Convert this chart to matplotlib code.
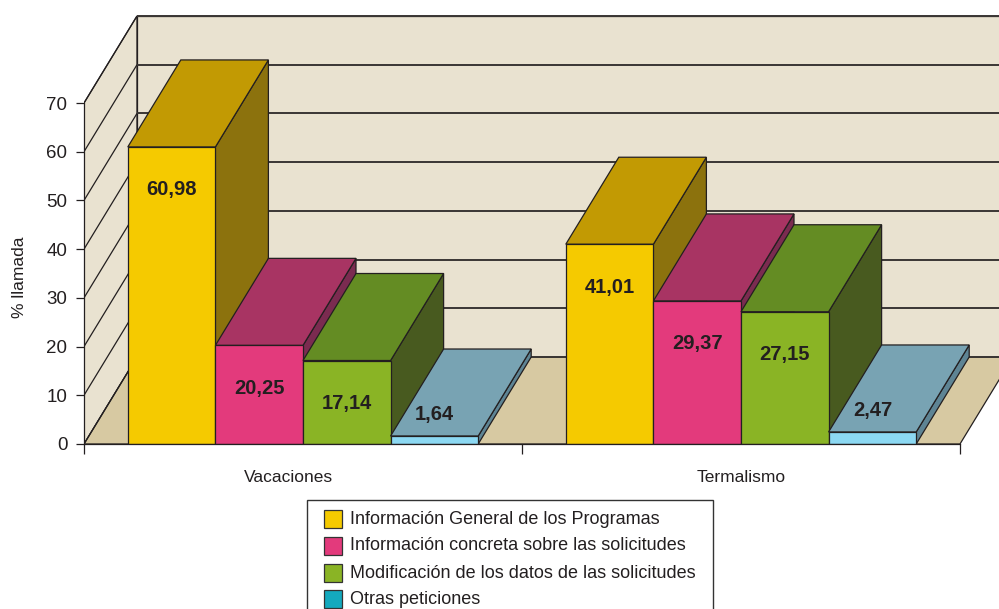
import matplotlib
matplotlib.use("Agg")
import matplotlib.pyplot as plt
from matplotlib.patches import Polygon, Rectangle

plt.rcParams['font.family'] = ['Liberation Sans', 'DejaVu Sans']

# ---- data ----
categories = ["Vacaciones", "Termalismo"]
series = [
    "Información General de los Programas",
    "Información concreta sobre las solicitudes",
    "Modificación de los datos de las solicitudes",
    "Otras peticiones",
]
values = [
    [60.98, 20.25, 17.14, 1.64],   # Vacaciones
    [41.01, 29.37, 27.15, 2.47],   # Termalismo
]
value_labels = [
    ["60,98", "20,25", "17,14", "1,64"],
    ["41,01", "29,37", "27,15", "2,47"],
]
y_ticks = [0, 10, 20, 30, 40, 50, 60, 70]
y_label = "% llamada"

# ---- styling ----
front_colors = ["#F5CA00", "#E33A7C", "#8AB425", "#8CD8F2"]
top_colors = ["#C29A03", "#A83463", "#648C23", "#78A3B3"]
side_colors = ["#8C720D", "#7B2B50", "#485A1F", "#5E8494"]
legend_colors = ["#F5CA00", "#E33A7C", "#8AB425", "#14A9BE"]
wall_color = "#E9E2D0"
floor_color = "#D7C9A2"
edge = "#231F20"
text_color = "#231F20"
cat_label_nudge = [-0.034, 0.0]   # horizontal shift of category names (category units)

W, H = 999, 609
fig = plt.figure(figsize=(W / 100, H / 100), dpi=100)

# plot area: x in category units, y in percent
px_per_cat = 438.0
px_per_val = (444 - 103) / 70.0
left_px, base_px = 84, 444
x_max = (W - left_px) / px_per_cat
y_max = base_px / px_per_val
ax = fig.add_axes([left_px / W, (H - base_px) / H, (W - left_px) / W, base_px / H])
ax.set_xlim(0, x_max)
ax.set_ylim(0, y_max)
ax.patch.set_visible(False)

# oblique depth offset of the 3D box
DX = 53 / px_per_cat
DY = 87 / px_per_val
ymax_axis = y_ticks[-1]
ncat = len(categories)

lw = 0.9
# side wall
ax.add_patch(Polygon([(0, 0), (0, ymax_axis), (DX, ymax_axis + DY), (DX, DY)],
                     closed=True, facecolor=wall_color, edgecolor=edge, lw=lw, zorder=1))
# back wall
ax.add_patch(Polygon([(DX, DY), (DX, ymax_axis + DY), (ncat + DX, ymax_axis + DY), (ncat + DX, DY)],
                     closed=True, facecolor=wall_color, edgecolor=edge, lw=lw, zorder=1))
# floor
ax.add_patch(Polygon([(0, 0), (ncat, 0), (ncat + DX, DY), (DX, DY)],
                     closed=True, facecolor=floor_color, edgecolor=edge, lw=lw, zorder=1))
# gridlines on walls
for t in y_ticks:
    ax.plot([0, DX], [t, t + DY], color=edge, lw=lw, zorder=2, solid_capstyle='butt')
    ax.plot([DX, ncat + DX], [t + DY, t + DY], color="#3A3634", lw=1.4, zorder=2,
            solid_capstyle='butt')

# bars
group_pad = 0.1
bw = (1 - 2 * group_pad) / len(series)
z = 3
for i, cat_vals in enumerate(values):
    for j, v in enumerate(cat_vals):
        x0 = i + group_pad + j * bw
        x1 = x0 + bw
        front = Polygon([(x0, 0), (x1, 0), (x1, v), (x0, v)], closed=True,
                        facecolor=front_colors[j], edgecolor=edge, lw=lw, zorder=z)
        top = Polygon([(x0, v), (x1, v), (x1 + DX, v + DY), (x0 + DX, v + DY)], closed=True,
                      facecolor=top_colors[j], edgecolor=edge, lw=lw, zorder=z)
        side = Polygon([(x1, 0), (x1, v), (x1 + DX, v + DY), (x1 + DX, DY)], closed=True,
                       facecolor=side_colors[j], edgecolor=edge, lw=lw, zorder=z)
        for p in (side, top, front):
            ax.add_patch(p)
        z += 1
        ly = v - 8.8 if v > 12 else v + 4.4
        ax.text((x0 + x1) / 2, ly, value_labels[i][j], ha='center', va='center',
                fontsize=14.5, fontweight='bold', color=text_color, zorder=100)

# axes
for s in ("top", "right"):
    ax.spines[s].set_visible(False)
ax.spines["left"].set_bounds(0, ymax_axis)
ax.spines["bottom"].set_bounds(0, ncat)
for s in ("left", "bottom"):
    ax.spines[s].set_color(edge)
    ax.spines[s].set_linewidth(lw)
    ax.spines[s].set_zorder(50)
ax.set_yticks(y_ticks)
ax.set_yticklabels([str(t) for t in y_ticks])
ax.tick_params(axis='y', length=6, width=lw, color=edge, pad=6, labelsize=13.5,
               labelcolor=text_color)
ax.set_xticks(range(ncat + 1))
ax.set_xticklabels([""] * (ncat + 1))
ax.tick_params(axis='x', which='major', length=7, width=lw, color=edge)
for i, name in enumerate(categories):
    ax.text(i + 0.5 + cat_label_nudge[i], -6.8, name, ha='center', va='center',
            fontsize=12.5, color=text_color, clip_on=False)

fig.text(20 / W, 1 - 277 / H, y_label, rotation=90, ha='center', va='center',
         fontsize=12.5, color=text_color)

# legend box, running past the bottom edge of the figure
def fx(px):
    return px / W

def fy(py):
    return 1 - py / H

leg_left, leg_top, leg_right = 307, 500, 713
leg_bottom = H + 20
fig.add_artist(Rectangle((fx(leg_left), fy(leg_bottom)), (leg_right - leg_left) / W,
                         (leg_bottom - leg_top) / H, transform=fig.transFigure,
                         facecolor="white", edgecolor="#333333", lw=1.0, zorder=5))
row_y = [519, 546, 573, 599]
sw = 18
for name, c, ry in zip(series, legend_colors, row_y):
    fig.add_artist(Rectangle((fx(324), fy(ry + sw / 2)), sw / W, sw / H,
                             transform=fig.transFigure, facecolor=c,
                             edgecolor="#333333", lw=0.9, zorder=6))
    fig.text(fx(350), fy(ry), name, ha='left', va='center', fontsize=13.0,
             color=text_color, zorder=7)

fig.savefig("out.png", dpi=100)
